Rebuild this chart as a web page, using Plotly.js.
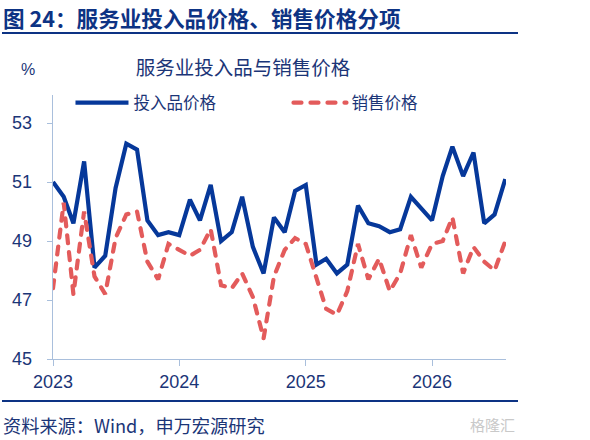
<!DOCTYPE html>
<html>
<head>
<meta charset="utf-8">
<script src="https://cdn.plot.ly/plotly-3.0.1.min.js"></script>
<style>
html,body{margin:0;padding:0;background:#fff;}
#chart{width:590px;height:440px;}
#chart .scatterlayer .trace:nth-child(2) path.js-line,
#chart .legend .traces:nth-child(2) path.js-line { stroke-linecap: round; }
</style>
</head>
<body>
<div id="chart"></div>
<script>
// ---- data ----
var months = [
  '2023-01-01','2023-02-01','2023-03-01','2023-04-01','2023-05-01','2023-06-01',
  '2023-07-01','2023-08-01','2023-09-01','2023-10-01','2023-11-01','2023-12-01',
  '2024-01-01','2024-02-01','2024-03-01','2024-04-01','2024-05-01','2024-06-01',
  '2024-07-01','2024-08-01','2024-09-01','2024-10-01','2024-11-01','2024-12-01',
  '2025-01-01','2025-02-01','2025-03-01','2025-04-01','2025-05-01','2025-06-01',
  '2025-07-01','2025-08-01','2025-09-01','2025-10-01','2025-11-01','2025-12-01',
  '2026-01-01','2026-02-01','2026-03-01','2026-04-01','2026-05-01','2026-06-01',
  '2026-07-01','2026-08-01'
];
var inputPrice = [
  51.0, 50.5, 49.6, 51.7, 48.1, 48.5, 50.8, 52.3, 52.1, 49.7, 49.2, 49.3,
  49.2, 50.4, 49.7, 50.9, 49.0, 49.3, 50.5, 48.8, 47.9, 49.8, 49.3, 50.7,
  50.9, 48.2, 48.4, 47.9, 48.2, 50.2, 49.6, 49.5, 49.3, 49.4, 50.5, 50.1,
  49.7, 51.2, 52.2, 51.2, 52.0, 49.6, 49.9, 51.1
];
var salePrice = [
  47.4, 50.3, 47.2, 50.0, 47.8, 47.2, 49.1, 49.9, 50.0, 48.3, 47.7, 48.9,
  48.7, 48.5, 48.7, 49.4, 47.5, 47.4, 47.9, 47.1, 45.7, 47.8, 48.7, 49.1,
  48.9, 47.8, 46.7, 46.5, 47.3, 48.9, 47.7, 48.4, 47.3, 47.9, 49.2, 48.1,
  48.9, 49.0, 49.8, 47.9, 48.8, 48.3, 48.0, 49.0
];
var seriesNames = ['投入品价格', '销售价格'];
var yTicks = [45, 47, 49, 51, 53];
var xTickVals = ['2023-01-01','2024-01-01','2025-01-01','2026-01-01'];
var xTickText = ['2023','2024','2025','2026'];

// ---- styles ----
var navy = '#0d3384';
var textNavy = '#1b3577';
var axisColor = '#a9bfdc';
var cjk = '"Noto Sans CJK SC", "Liberation Sans", Arial, sans-serif';
var latin = '"Liberation Sans", Arial, "Noto Sans CJK SC", sans-serif';

var traces = [
  {
    x: months, y: inputPrice, name: seriesNames[0], type: 'scatter', mode: 'lines',
    line: {color: '#06389a', width: 4.2}
  },
  {
    x: months, y: salePrice, name: seriesNames[1], type: 'scatter', mode: 'lines',
    line: {color: '#e35b5b', width: 4.2, dash: '8px,9px'}
  }
];

var layout = {
  width: 590, height: 440,
  margin: {l: 53, r: 84, t: 95, b: 81},
  paper_bgcolor: '#ffffff', plot_bgcolor: '#ffffff',
  showlegend: true,
  title: {
    text: '服务业投入品与销售价格',
    font: {family: cjk, size: 19.5, color: textNavy},
    x: 0.412, xanchor: 'center', xref: 'container',
    y: 1 - 68/440, yanchor: 'middle', yref: 'container'
  },
  legend: {
    orientation: 'h',
    x: 0.0386, xanchor: 'left',
    y: 0.97, yanchor: 'middle',
    font: {family: cjk, size: 16.5, color: textNavy},
    bgcolor: 'rgba(255,255,255,0)',
    itemwidth: 53,
    entrywidth: 150, entrywidthmode: 'pixels',
    tracegroupgap: 0
  },
  xaxis: {
    type: 'date',
    range: ['2023-01-01', '2026-08-03'],
    tickmode: 'array', tickvals: xTickVals, ticktext: xTickText,
    ticks: 'outside', ticklen: 6, tickwidth: 1, tickcolor: axisColor,
    showline: true, linecolor: axisColor, linewidth: 1.3,
    showgrid: false, zeroline: false,
    tickfont: {family: latin, size: 18, color: textNavy},
    fixedrange: true
  },
  yaxis: {
    range: [45, 53.95],
    tickmode: 'array', tickvals: yTicks,
    ticks: 'outside', ticklen: 5, tickwidth: 1, tickcolor: axisColor,
    ticklabelstandoff: 11,
    showline: true, linecolor: axisColor, linewidth: 1.3,
    showgrid: false, zeroline: false,
    tickfont: {family: latin, size: 18, color: textNavy},
    fixedrange: true
  },
  shapes: [
    {type: 'line', xref: 'paper', yref: 'paper',
     x0: (2-53)/453, x1: (518-53)/453, y0: (359-33)/264, y1: (359-33)/264,
     line: {color: navy, width: 2}},
    {type: 'line', xref: 'paper', yref: 'paper',
     x0: (2-53)/453, x1: (518-53)/453, y0: (359-401)/264, y1: (359-401)/264,
     line: {color: navy, width: 2}}
  ],
  annotations: [
    {text: '<b>图 24：服务业投入品价格、销售价格分项</b>', xref: 'paper', yref: 'paper',
     x: (1-53)/453, y: (359-18)/264, xanchor: 'left', yanchor: 'middle', showarrow: false,
     font: {family: cjk, size: 21.6, color: navy}},
    {text: '%', xref: 'paper', yref: 'paper',
     x: (28-53)/453, y: (359-69)/264, xanchor: 'center', yanchor: 'middle', showarrow: false,
     font: {family: latin, size: 16, color: textNavy}},
    {text: '资料来源：Wind，申万宏源研究', xref: 'paper', yref: 'paper',
     x: (1-53)/453, y: (359-425)/264, xanchor: 'left', yanchor: 'middle', showarrow: false,
     font: {family: cjk, size: 18.2, color: textNavy}},
    {text: '格隆汇', xref: 'paper', yref: 'paper',
     x: (492-53)/453, y: (359-424)/264, xanchor: 'center', yanchor: 'middle', showarrow: false,
     font: {family: cjk, size: 15, color: '#c9c9c9'}}
  ]
};

Plotly.newPlot('chart', traces, layout, {staticPlot: true, displayModeBar: false});
</script>
</body>
</html>
